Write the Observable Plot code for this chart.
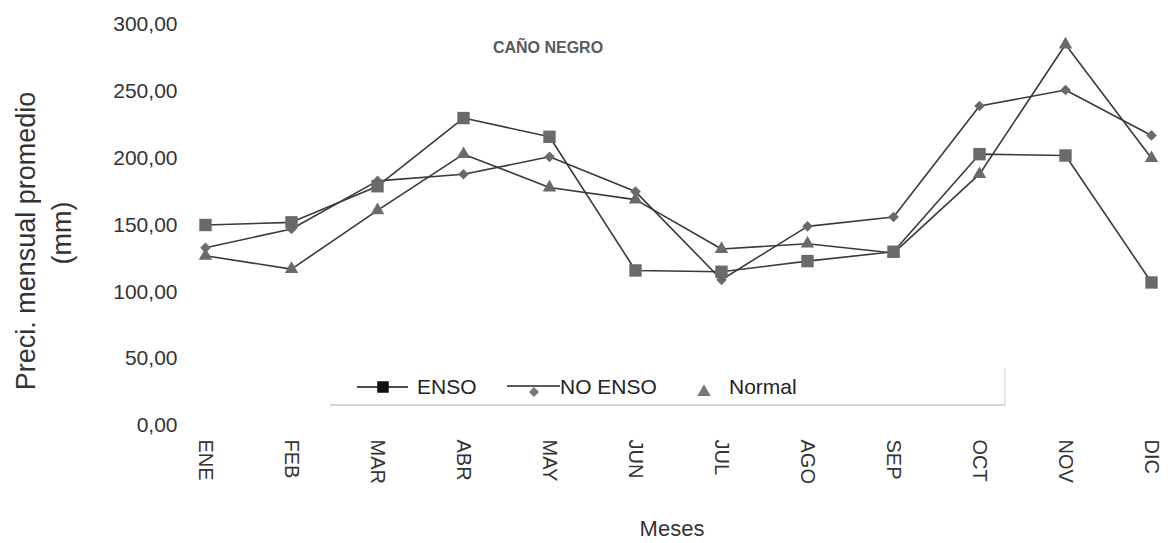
<!DOCTYPE html>
<html>
<head>
<meta charset="utf-8">
<script src="https://cdn.jsdelivr.net/npm/d3@7"></script>
<script src="https://cdn.jsdelivr.net/npm/@observablehq/plot@0.6"></script>
<style>
  html, body { margin: 0; padding: 0; background: #fff; }
  #chart { width: 1171px; height: 543px; }
</style>
</head>
<body>
<div id="chart"></div>
<script>
// Precipitación mensual promedio (mm) — estación Caño Negro
const months = ["ENE", "FEB", "MAR", "ABR", "MAY", "JUN", "JUL", "AGO", "SEP", "OCT", "NOV", "DIC"];
const enso   = [150, 152, 179, 230, 216, 116, 115, 123, 130, 203, 202, 107];
const noEnso = [133, 147, 183, 188, 201, 175, 109, 149, 156, 239, 251, 217];
const normal = [127, 117, 161, 203, 178, 169, 132, 136, 129, 188, 285, 200];
const seriesNames = ["ENSO", "NO ENSO", "Normal"];
const yTicks = [0, 50, 100, 150, 200, 250, 300];

const rows = months.flatMap((m, i) => [
  {mes: m, serie: "ENSO", valor: enso[i]},
  {mes: m, serie: "NO ENSO", valor: noEnso[i]},
  {mes: m, serie: "Normal", valor: normal[i]}
]);
const of = (name) => rows.filter(d => d.serie === name);

const FONT = "'Liberation Sans', Arial, sans-serif";
const fmt = d => d.toFixed(2).replace(".", ",");

const chart = Plot.plot({
  width: 1171,
  height: 543,
  marginLeft: 201,
  marginRight: 16,
  marginTop: 24,
  marginBottom: 118,
  style: {fontFamily: FONT, color: "#333", background: "#fff", overflow: "visible"},
  x: {type: "point", domain: months, padding: 0, label: null},
  y: {domain: [0, 300], label: null},
  marks: [
    Plot.axisY({ticks: yTicks, tickSize: 0, tickPadding: 24, tickFormat: fmt, fontSize: 21, label: null}),
    Plot.axisX({tickSize: 0, tickRotate: 90, tickPadding: 14, fontSize: 20, label: null}),
    Plot.line(rows, {x: "mes", y: "valor", z: "serie", stroke: "#3a3a3a", strokeWidth: 1.6}),
    Plot.dot(of("ENSO"), {x: "mes", y: "valor", symbol: "square", r: 7, fill: "#6a6a6a"}),
    Plot.dot(of("NO ENSO"), {x: "mes", y: "valor", symbol: "diamond2", r: 4.8, fill: "#6a6a6a"}),
    Plot.dot(of("Normal"), {x: "mes", y: "valor", symbol: "triangle", r: 5, fill: "#6a6a6a"})
  ]
});

document.getElementById("chart").appendChild(chart);

// Annotations: title, y-axis title, x-axis title and legend inside the same SVG
const svg = d3.select(chart);

svg.append("text")
  .attr("x", 548).attr("y", 53)
  .attr("text-anchor", "middle")
  .attr("font-family", FONT).attr("font-size", 16).attr("font-weight", "bold")
  .attr("fill", "#5a5a5a")
  .text("CAÑO NEGRO");

svg.append("text")
  .attr("transform", "translate(35,241) rotate(-90)")
  .attr("text-anchor", "middle")
  .attr("font-family", FONT).attr("font-size", 27).attr("fill", "#333")
  .text("Preci. mensual promedio");
svg.append("text")
  .attr("transform", "translate(71,233) rotate(-90)")
  .attr("text-anchor", "middle")
  .attr("font-family", FONT).attr("font-size", 27).attr("fill", "#333")
  .text("(mm)");

svg.append("text")
  .attr("x", 672).attr("y", 536)
  .attr("text-anchor", "middle")
  .attr("font-family", FONT).attr("font-size", 22).attr("fill", "#333")
  .text("Meses");

// Legend
const lg = svg.append("g")
  .attr("font-family", FONT).attr("font-size", 21).attr("fill", "#222")
  .attr("text-anchor", "start");
lg.append("line").attr("x1", 330).attr("x2", 1005).attr("y1", 405).attr("y2", 405).attr("stroke", "#aaa");
lg.append("line").attr("x1", 1005).attr("x2", 1005).attr("y1", 368).attr("y2", 405).attr("stroke", "#ccc");

const symbolPath = (type, r) => d3.symbol(type, Math.PI * r * r)();

// ENSO
lg.append("line").attr("x1", 357).attr("x2", 408).attr("y1", 387).attr("y2", 387).attr("stroke", "#111").attr("stroke-width", 1.6);
lg.append("path").attr("d", symbolPath(d3.symbolSquare, 6.5)).attr("transform", "translate(383,387)").attr("fill", "#111");
lg.append("text").attr("x", 417).attr("y", 394).text(seriesNames[0]);
// NO ENSO
lg.append("line").attr("x1", 507).attr("x2", 560).attr("y1", 386).attr("y2", 386).attr("stroke", "#222").attr("stroke-width", 1.6);
lg.append("path").attr("d", symbolPath(d3.symbolDiamond2, 4.5)).attr("transform", "translate(534,392)").attr("fill", "#777");
lg.append("text").attr("x", 560).attr("y", 394).text(seriesNames[1]);
// Normal
lg.append("path").attr("d", symbolPath(d3.symbolTriangle, 5)).attr("transform", "translate(704,392)").attr("fill", "#777");
lg.append("text").attr("x", 729).attr("y", 394).text(seriesNames[2]);
</script>
</body>
</html>
